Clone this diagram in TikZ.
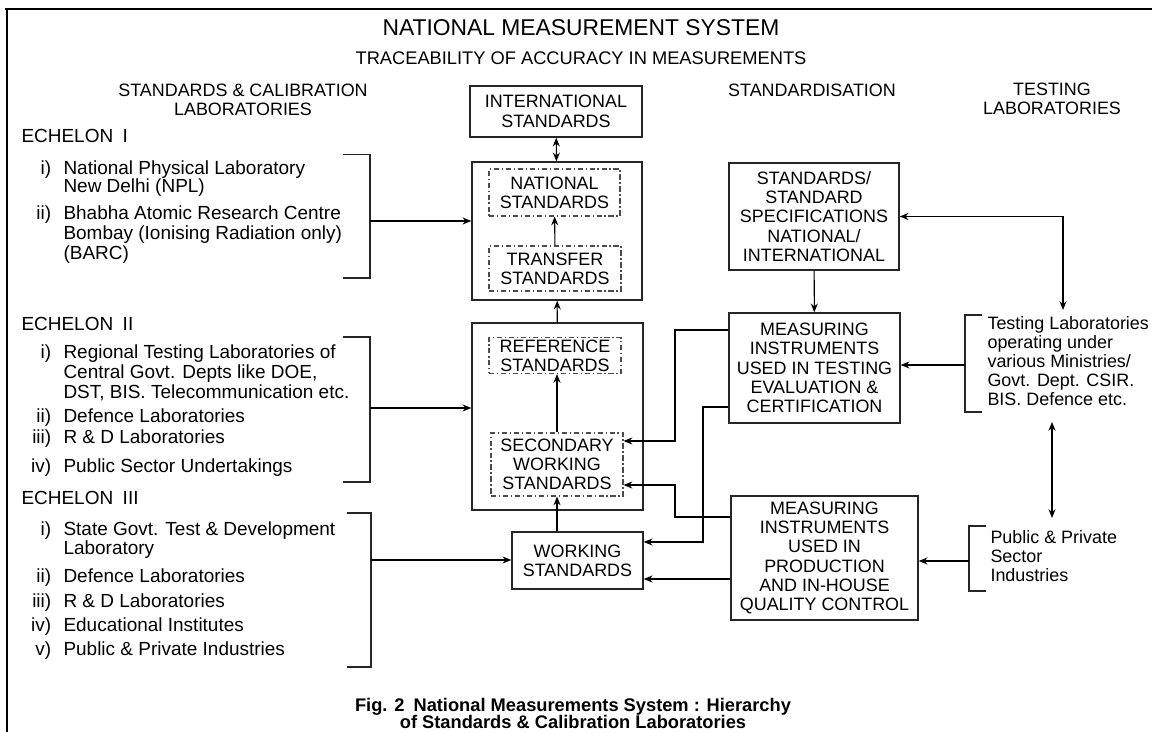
\documentclass[tikz,border=0pt]{standalone}
\usepackage{fontspec}
\setmainfont{Liberation Sans}
\usetikzlibrary{arrows.meta}

\newcommand{\itm}[2]{\makebox[0pt][r]{#1\hspace{7pt}}#2}

\begin{document}
\begin{tikzpicture}[x=0.02cm,y=-0.02cm,
  >={Stealth[length=5pt,width=4pt]},
  box/.style={draw=black!85,line width=0.8pt,inner sep=0pt,align=center,font=\fontsize{10.2}{11}\selectfont},
  dbox/.style={box,draw=black!70,line width=0.6pt,dash pattern=on 3pt off 1.5pt on 0.8pt off 1.5pt},
  head/.style={align=center,inner sep=0pt,font=\fontsize{10.2}{11}\selectfont},
  txt/.style={anchor=west,inner sep=0pt,text height=1.5ex,text depth=.25ex,font=\fontsize{10.8}{12}\selectfont},
  brk/.style={draw=black!85,line width=0.6pt},
  every path/.style={line width=0.6pt}]
\useasboundingbox (0,0) rectangle (1152,732);
\fill[white] (0,0) rectangle (1152,732);
\draw[line width=1.6pt] (5,9) -- (1152,9);
\draw[line width=1.6pt] (7,8.2) -- (7,732);

\node[font=\fontsize{13}{14}\selectfont] (title) at (581,28) {NATIONAL MEASUREMENT SYSTEM};
\node[font=\fontsize{10.4}{12}\selectfont] (subtitle) at (581,58) {TRACEABILITY OF ACCURACY IN MEASUREMENTS};
\node[head] (hcal) at (243,100) {STANDARDS \& CALIBRATION\\LABORATORIES};
\node[head] (hstd) at (812,90) {STANDARDISATION};
\node[head] (htest) at (1052,99) {TESTING\\LABORATORIES};

% hierarchy of standards
\node[box,minimum width=3.44cm,minimum height=1.02cm] (intl) at (556,111.5) {INTERNATIONAL\\STANDARDS};
\node[box,minimum width=3.4cm,minimum height=2.76cm] (natbox) at (557,231) {};
\node[dbox,minimum width=2.62cm,minimum height=0.94cm] (national) at (554.5,192.5) {NATIONAL\\STANDARDS};
\node[dbox,minimum width=2.64cm,minimum height=0.9cm] (transfer) at (555,268.5) {TRANSFER\\STANDARDS};
\node[box,minimum width=3.42cm,minimum height=3.74cm] (refbox) at (557.5,416.5) {};
\node[dbox,minimum width=2.64cm,minimum height=0.72cm] (reference) at (555,355.5) {REFERENCE\\STANDARDS};
\node[dbox,minimum width=2.64cm,minimum height=1.26cm] (secondary) at (557,464.5) {SECONDARY\\WORKING\\STANDARDS};
\node[box,minimum width=2.62cm,minimum height=1.14cm] (working) at (577.5,560.5) {WORKING\\STANDARDS};

\node[box,minimum width=3.4cm,minimum height=2.14cm] (stdspec) at (814,216.5) {STANDARDS/\\STANDARD\\SPECIFICATIONS\\NATIONAL/\\INTERNATIONAL};
\node[box,minimum width=3.42cm,minimum height=2.2cm] (mit) at (814.5,368) {MEASURING\\INSTRUMENTS\\USED IN TESTING\\EVALUATION \&\\CERTIFICATION};
\node[box,minimum width=3.74cm,minimum height=2.48cm] (mip) at (824.5,558) {MEASURING\\INSTRUMENTS\\USED IN\\PRODUCTION\\AND IN-HOUSE\\QUALITY CONTROL};

\node[anchor=west,inner sep=0pt,align=left,font=\fontsize{10.2}{10.9}\selectfont] (tlabs) at (987,361) {Testing Laboratories\\operating under\\various Ministries/\\Govt. Dept. CSIR.\\BIS. Defence etc.};
\node[anchor=west,inner sep=0pt,align=left,font=\fontsize{10.2}{10.9}\selectfont] (ppriv) at (990,556) {Public \& Private\\Sector\\Industries};

% echelons
\node[txt] (ech1) at (21,137) {ECHELON\enspace I};
\node[txt] (e1a) at (63,169) {\itm{i)}{National Physical Laboratory}};
\node[txt] (e1b) at (63,187) {New Delhi (NPL)};
\node[txt] (e1c) at (63,214) {\itm{ii)}{Bhabha Atomic Research Centre}};
\node[txt] (e1d) at (63,234) {Bombay (Ionising Radiation only)};
\node[txt] (e1e) at (63,254) {(BARC)};

\node[txt] (ech2) at (21,325) {ECHELON\enspace II};
\node[txt] (e2a) at (63,353) {\itm{i)}{Regional Testing Laboratories of}};
\node[txt] (e2b) at (63,373) {Central Govt. Depts like DOE,};
\node[txt] (e2c) at (63,393) {DST, BIS. Telecommunication etc.};
\node[txt] (e2d) at (63,417) {\itm{ii)}{Defence Laboratories}};
\node[txt] (e2e) at (63,438) {\itm{iii)}{R \& D Laboratories}};
\node[txt] (e2f) at (63,467) {\itm{iv)}{Public Sector Undertakings}};

\node[txt] (ech3) at (21,499) {ECHELON\enspace III};
\node[txt] (e3a) at (63,530) {\itm{i)}{State Govt. Test \& Development}};
\node[txt] (e3b) at (63,549) {Laboratory};
\node[txt] (e3c) at (63,577) {\itm{ii)}{Defence Laboratories}};
\node[txt] (e3d) at (63,602) {\itm{iii)}{R \& D Laboratories}};
\node[txt] (e3e) at (63,626) {\itm{iv)}{Educational Institutes}};
\node[txt] (e3f) at (63,650) {\itm{v)}{Public \& Private Industries}};

\node[font=\bfseries\fontsize{10.4}{9.8}\selectfont,align=center] (caption) at (573,713.5) {Fig. 2\enspace National Measurements System : Hierarchy\\of Standards \& Calibration Laboratories};

% brackets
\draw[brk] (343,154.5) -- (370,154.5) -- (370,278) -- (343,278);
\coordinate (b1) at (370,221);
\draw[brk] (343,337) -- (370,337) -- (370,482) -- (343,482);
\coordinate (b2) at (370,408);
\draw[brk] (347,513) -- (371,513) -- (371,667) -- (347,667);
\coordinate (b3) at (371,560);
\draw[brk] (982,315) -- (965,315) -- (965,412) -- (982,412);
\coordinate (tb) at (965,365);
\draw[brk] (986,526) -- (969,526) -- (969,591) -- (986,591);
\coordinate (pb) at (969,561);
\coordinate (tt) at (1063,310);
\coordinate (tu) at (1052,422);
\coordinate (pu) at (1052,518);

% connectors
\draw[<->] (intl) -- (natbox);
\draw[->] (transfer) -- (national);
\draw[->] (refbox) -- (natbox);
\draw[->] (secondary) -- (secondary |- reference.south);
\draw[->] (working.north -| secondary) -- (secondary.south);
\draw[->] (stdspec) -- (mit);
\draw[->] (b1) -- (b1 -| natbox.west);
\draw[->] (b2) -- (b2 -| refbox.west);
\draw[->] (b3) -- (b3 -| working.west);
\draw[->] (tb) -- (tb -| mit.east);
\draw[->] (pb) -- (pb -| mip.east);
\draw[<->] (stdspec.east) -| (tt);
\draw[<->] (tu) -- (pu);
\draw[->] (mit.west |- 0,330) -- (675,330) |- (secondary.east |- 0,441);
\draw[->] (mit.west |- 0,407) -- (703,407) |- (working.east |- 0,542);
\draw[->] (mip.west |- 0,517) -- (675,517) |- (secondary.east |- 0,485);
\draw[->] (mip.west |- 0,579) -- (working.east |- 0,579);

\end{tikzpicture}
\end{document}
